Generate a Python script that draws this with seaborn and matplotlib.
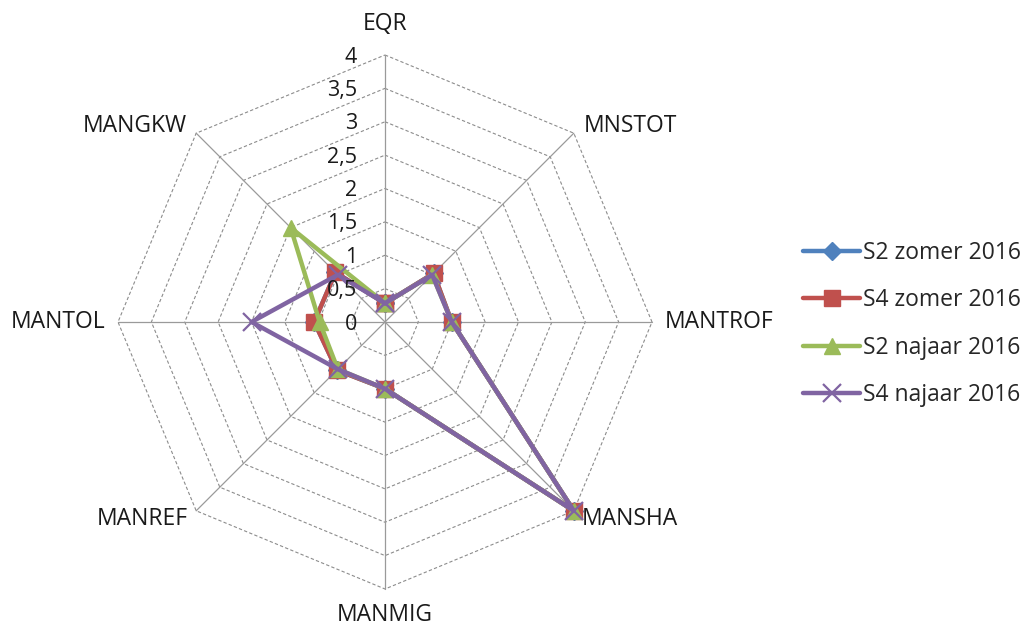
import numpy as np
import matplotlib
matplotlib.use("Agg")
import matplotlib.pyplot as plt
import seaborn as sns

# Categories around the radar, clockwise from the top
categories = ["EQR", "MNSTOT", "MANTROF", "MANSHA", "MANMIG", "MANREF", "MANTOL", "MANGKW"]

# Scores per sampling round
s2_zomer_2016 = [0.28, 1.03, 1.0, 4.0, 1.0, 1.02, 1.06, 1.05]
s4_zomer_2016 = [0.28, 1.03, 1.0, 4.0, 1.0, 1.02, 1.06, 1.05]
s2_najaar_2016 = [0.28, 1.0, 1.0, 4.0, 1.0, 1.0, 0.98, 2.0]
s4_najaar_2016 = [0.28, 1.0, 1.0, 4.0, 1.0, 1.0, 2.0, 1.0]

series_names = ["S2 zomer 2016", "S4 zomer 2016", "S2 najaar 2016", "S4 najaar 2016"]
series_values = [s2_zomer_2016, s4_zomer_2016, s2_najaar_2016, s4_najaar_2016]

# Radial scale
r_levels = [0, 0.5, 1, 1.5, 2, 2.5, 3, 3.5, 4]
r_labels = ["0", "0,5", "1", "1,5", "2", "2,5", "3", "3,5", "4"]

colors = ["#4F81BD", "#C0504D", "#9BBB59", "#8064A2"]
markers = ["D", "s", "^", "x"]
msizes = [9, 11, 12, 13]

sns.set_style("white")
plt.rcParams["font.family"] = ["Open Sans", "DejaVu Sans"]

fig = plt.figure(figsize=(10.26, 6.27), dpi=100)
ax = fig.add_axes([0.115, 0.0606, 0.5205, 0.8517], projection="polar")
ax.set_theta_zero_location("N")
ax.set_theta_direction(-1)
ax.set_ylim(0, 4)
ax.grid(False)
ax.set_xticks([])
ax.set_yticks([])
ax.spines["polar"].set_visible(False)
ax.patch.set_alpha(0)

n = len(categories)
theta = np.linspace(0, 2 * np.pi, n, endpoint=False)
theta_closed = np.append(theta, theta[0] + 2 * np.pi)

# Octagonal grid rings and spokes
for lv in r_levels[1:]:
    ax.plot(theta_closed, [lv] * (n + 1), color="#8c8c8c", lw=0.8,
            ls=(0, (3, 2)), zorder=1, clip_on=False)
for t in theta:
    ax.plot([t, t], [0, 4], color="#9a9a9a", lw=0.9, zorder=1, clip_on=False)

# Data series
for name, vals, c, m, ms in zip(series_names, series_values, colors, markers, msizes):
    v = list(vals) + [vals[0]]
    sns.lineplot(x=theta_closed, y=v, ax=ax, sort=False, color=c, lw=3.2,
                 marker=m, markersize=ms, markeredgecolor=c,
                 markeredgewidth=1.6 if m == "x" else 1.0,
                 label=name, legend=False, zorder=3, clip_on=False)
ax.set_xlabel("")
ax.set_ylabel("")

# Radial value labels along the top spoke
for lv, lab in zip(r_levels, r_labels):
    ax.annotate(lab, xy=(0, lv), xytext=(-20, -1.5), textcoords="offset points",
                ha="right", va="center", fontsize=15.5, color="#1a1a1a",
                annotation_clip=False)

# Category labels outside the outer ring
label_offsets = [(0, 14, "center", "bottom"), (7, 5, "left", "center"),
                 (9, 0, "left", "center"), (6, -6, "left", "center"),
                 (0, -10, "center", "top"), (-6, -6, "right", "center"),
                 (-9, 0, "right", "center"), (-7, 5, "right", "center")]
for t, cat, (dx, dy, ha, va) in zip(theta, categories, label_offsets):
    ax.annotate(cat, xy=(t, 4), xytext=(dx, dy), textcoords="offset points",
                ha=ha, va=va, fontsize=16.5, color="#1a1a1a", annotation_clip=False)

handles = ax.get_lines()[-4:]
fig.legend(handles, series_names, loc="center left",
           bbox_to_anchor=(803 / 1026, 1 - 324 / 627), frameon=False,
           fontsize=16.5, handlelength=2.5, handletextpad=0.1,
           labelspacing=1.02, borderpad=0, borderaxespad=0)

fig.savefig("out.png", dpi=100)
